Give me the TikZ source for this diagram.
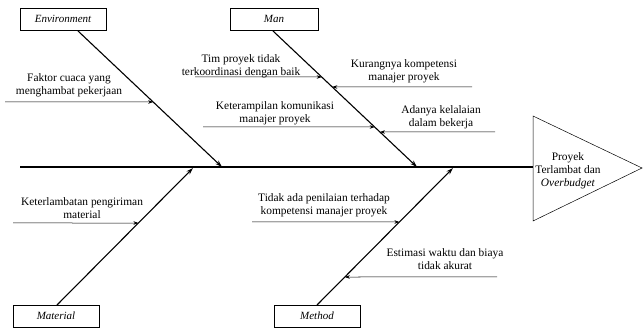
\documentclass[tikz,border=0pt]{standalone}
\usepackage{fontspec}
\setmainfont{Liberation Serif}
\usetikzlibrary{shapes, positioning, arrows.meta, calc, shadows}

\begin{document}
\begin{tikzpicture}[
    x=1pt, y=-1pt,
    >=Stealth,
    every node/.style={align=center, font=\fontsize{11.4}{13}\selectfont, inner sep=0pt},
    catbox/.style={draw, thick, fill=white, minimum width=86pt, minimum height=22pt,
        font=\fontsize{11}{13}\selectfont\itshape,
        drop shadow={shadow xshift=1.2pt, shadow yshift=-1.2pt, fill=black, opacity=1}},
    bone/.style={-{Stealth[length=7pt, width=4.5pt]}, line width=1.1pt},
    cause/.style={-{Stealth[length=5pt, width=3.5pt]}, line width=0.5pt},
    spine/.style={line width=1.1pt}
]
\useasboundingbox (0,0) rectangle (643,331);

% Kopf: Fischkopf mit Wirkung
\draw[line width=0.5pt] (533,116) -- (642,168) -- (533,221) -- cycle;
\node (effect) at (568,171) {Proyek\\Terlambat dan\\\textit{Overbudget}};
\coordinate (head) at (533,167);
\coordinate (tail) at (20,167);
\draw[spine] (tail) -- (head);

% Oben links: Environment
\node[catbox] (env) at (63,19) {Environment};
\coordinate (envS) at (78,31);
\coordinate (envE) at (222,167);
\draw[bone] (envS) -- (envE);

% Oben rechts: Man
\node[catbox, minimum width=88pt] (man) at (274,19) {Man};
\coordinate (manS) at (273,31);
\coordinate (manE) at (417,167);
\draw[bone] (manS) -- (manE);

% Unten links: Material
\node[catbox] (mat) at (56,316) {Material};
\coordinate (matS) at (57,305);
\coordinate (matE) at (193,168);
\draw[bone] (matS) -- (matE);

% Unten rechts: Method
\node[catbox] (meth) at (317,316) {Method};
\coordinate (methS) at (317,305);
\coordinate (methE) at (453,168);
\draw[bone] (methS) -- (methE);

% Ursachen: Environment
\node (cuaca) at (69,85.5) {Faktor cuaca yang\\menghambat pekerjaan};
\coordinate (cuacaL) at (5,102);
\draw[cause] (cuacaL) -- ($(envS)!{71/136}!(envE)$);

% Ursachen: Man
\node (tim) at (241,66) {Tim proyek tidak\\terkoordinasi dengan baik};
\coordinate (timL) at (195,77);
\draw[cause] (timL) -- ($(manS)!{46/136}!(manE)$);

\node (komunikasi) at (275,113.5) {Keterampilan komunikasi\\manajer proyek};
\coordinate (komunikasiL) at (203,127);
\draw[cause] (komunikasiL) -- ($(manS)!{96/136}!(manE)$);

\node (kompetensi) at (404,71) {Kurangnya kompetensi\\manajer proyek};
\coordinate (kompetensiR) at (472,87);
\draw[cause] (kompetensiR) -- ($(manS)!{56/136}!(manE)$);

\node (lalai) at (441,117.5) {Adanya kelalaian\\dalam bekerja};
\coordinate (lalaiR) at (495,132);
\draw[cause] (lalaiR) -- ($(manS)!{101/136}!(manE)$);

% Ursachen: Material
\node (kirim) at (82,208.5) {Keterlambatan pengiriman\\material};
\coordinate (kirimL) at (13,223);
\draw[cause] (kirimL) -- ($(matS)!{82/137}!(matE)$);

% Ursachen: Method
\node (nilai) at (324,205) {Tidak ada penilaian terhadap\\kompetensi manajer proyek};
\coordinate (nilaiL) at (252,222);
\draw[cause] (nilaiL) -- ($(methS)!{83/137}!(methE)$);

\node (estimasi) at (445,259.5) {Estimasi waktu dan biaya\\tidak akurat};
\coordinate (estimasiR) at (497,277);
\draw[cause] (estimasiR) -- ($(methS)!{28/137}!(methE)$);

\end{tikzpicture}
\end{document}
